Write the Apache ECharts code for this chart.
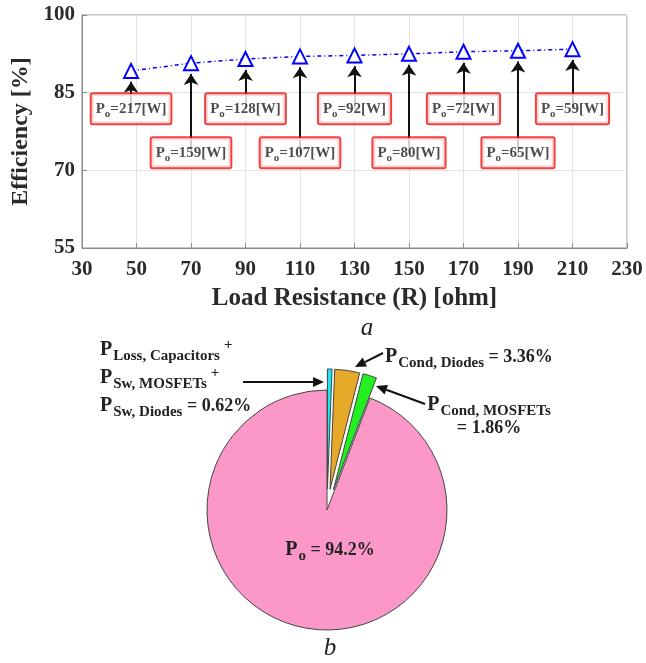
<!DOCTYPE html>
<html><head><meta charset="utf-8">
<script src="https://cdn.jsdelivr.net/npm/echarts@6/dist/echarts.min.js"></script>
<style>html,body{margin:0;padding:0;background:#fff}#c{width:646px;height:663px}</style>
</head><body><div id="c"></div>
<script>
// ---- data ----
const loadResistance = [48, 70, 90, 110, 130, 150, 170, 190, 210];
const efficiency = [89.2, 90.7, 91.5, 92.0, 92.2, 92.5, 92.9, 93.1, 93.4];
const outputPower = [217, 159, 128, 107, 92, 80, 72, 65, 59];
const xAxisRange = [30, 230, 20];
const yAxisRange = [55, 100, 15];
const pieParts = ['Loss+Sw', 'Cond, Diodes', 'Cond, MOSFETs', 'o'];
const pieShares = [0.62, 3.36, 1.86, 94.2];
const pieColors = ['#18e8f0', '#e6a92a', '#22f022', '#fb98c8'];

// ---- layout constants ----
const FONT = "'Liberation Serif','Times New Roman',serif";
const boxRowLevel = [81.9, 73.4];
const arrowGap = 2.1;

const boxData = loadResistance.map((x, i) => ({ value: [x, boxRowLevel[i % 2]], power: outputPower[i] }));
const arrowLines = loadResistance.map((x, i) => [
  { coord: [x, boxRowLevel[i % 2]], symbol: 'none' },
  { coord: [x, efficiency[i] - arrowGap], symbol: 'arrow' }
]);

function arrow(x1, y1, x2, y2) {
  const a = Math.atan2(y2 - y1, x2 - x1), L = 11, W = 5;
  const bx = x2 - L * Math.cos(a), by = y2 - L * Math.sin(a);
  return [
    { type: 'line', silent: true, shape: { x1, y1, x2: bx, y2: by }, style: { stroke: '#111', lineWidth: 2 } },
    { type: 'polygon', silent: true, shape: { points: [[x2, y2], [bx + W * Math.sin(a), by - W * Math.cos(a)], [bx - W * Math.sin(a), by + W * Math.cos(a)]] }, style: { fill: '#111' } }
  ];
}

const pieRich = {
  P: { fontFamily: FONT, fontWeight: 'bold', fontSize: 20, fill: '#222', color: '#222' },
  sub: { fontFamily: FONT, fontWeight: 'bold', fontSize: 15, fill: '#222', color: '#222', padding: [13, 0, 0, 1] },
  sup: { fontFamily: FONT, fontWeight: 'bold', fontSize: 15, fill: '#222', color: '#222', padding: [0, 0, 10, 4] },
  val: { fontFamily: FONT, fontWeight: 'bold', fontSize: 18, fill: '#222', color: '#222' }
};
const pct = (i, d) => pieShares[i].toFixed(d) + '%';
const pieNotes = [
  { text: '{P|P}{sub|Loss, Capacitors}{sup|+}\n{P|P}{sub|Sw, MOSFETs}{sup|+}\n{P|P}{sub|Sw, Diodes}{val| = ' + pct(0, 2) + '}', x: 100, y: 336, align: 'left', verticalAlign: 'top' },
  { text: '{P|P}{sub|' + pieParts[1] + '}{val| = ' + pct(1, 2) + '}', x: 385, y: 357, align: 'left', verticalAlign: 'middle' },
  { text: '{P|P}{sub|' + pieParts[2] + '}\n{val|= ' + pct(2, 2) + '}', x: 489, y: 391, align: 'center', verticalAlign: 'top' }
];

const chart = echarts.init(document.getElementById('c'), null, { renderer: 'canvas' });
chart.setOption({
  animation: false,
  backgroundColor: '#fff',
  grid: { left: 82, right: 19, top: 15, bottom: 415, show: true, borderColor: '#8a8a8a', borderWidth: 1, backgroundColor: 'transparent' },
  xAxis: {
    type: 'value', min: xAxisRange[0], max: xAxisRange[1], interval: xAxisRange[2],
    name: 'Load Resistance (R) [ohm]', nameLocation: 'middle', nameGap: 38,
    nameTextStyle: { fontFamily: FONT, fontWeight: 'bold', fontSize: 25, color: '#2a2a2a' },
    axisLine: { show: true, lineStyle: { color: '#8a8a8a' } },
    axisTick: { show: true, inside: true, length: 5, lineStyle: { color: '#8a8a8a' } },
    axisLabel: { fontFamily: FONT, fontWeight: 'bold', fontSize: 21, color: '#2a2a2a', margin: 11 },
    splitLine: { show: true, lineStyle: { color: '#e3e3e3', width: 1 } }
  },
  yAxis: {
    type: 'value', min: yAxisRange[0], max: yAxisRange[1], interval: yAxisRange[2],
    name: 'Efficiency [%]', nameLocation: 'middle', nameGap: 43,
    nameTextStyle: { fontFamily: FONT, fontWeight: 'bold', fontSize: 24, color: '#2a2a2a' },
    axisLine: { show: true, lineStyle: { color: '#8a8a8a' } },
    axisTick: { show: true, inside: true, length: 5, lineStyle: { color: '#8a8a8a' } },
    axisLabel: { fontFamily: FONT, fontWeight: 'bold', fontSize: 21, color: '#2a2a2a', margin: 7 },
    splitLine: { show: true, lineStyle: { color: '#e3e3e3', width: 1 } }
  },
  series: [
    {
      type: 'line', z: 3,
      data: loadResistance.map((x, i) => [x, efficiency[i]]),
      symbol: 'emptyTriangle', symbolSize: 14,
      itemStyle: { color: '#0000ff', borderWidth: 2.6 },
      lineStyle: { color: '#0000ff', width: 1.5, type: [4, 3, 1, 3] },
      markLine: {
        silent: true, symbolSize: 11, label: { show: false },
        lineStyle: { color: '#111', width: 2, type: 'solid' },
        emphasis: { disabled: true },
        data: arrowLines
      }
    },
    {
      type: 'scatter', z: 6, silent: true,
      data: boxData, symbolSize: 1, itemStyle: { color: 'rgba(0,0,0,0)' },
      label: {
        show: true, position: 'inside',
        formatter: p => '{p|P}{s|o}{p|=' + p.data.power + '[W]}',
        backgroundColor: '#fff', borderColor: '#ee1111', borderWidth: 2, borderRadius: 1,
        padding: [5, 4, 4, 4],
        rich: {
          p: { fontFamily: FONT, fontWeight: 'bold', fontSize: 15, color: '#222' },
          s: { fontFamily: FONT, fontWeight: 'bold', fontSize: 11, color: '#222', padding: [9, 0, 0, 0] }
        }
      }
    },
    {
      type: 'pie', center: [327, 510], radius: 120, startAngle: 90, clockwise: true,
      selectedMode: 'multiple', selectedOffset: 21, silent: true,
      emphasis: { disabled: true },
      itemStyle: { borderColor: '#444', borderWidth: 1 },
      select: { itemStyle: { borderColor: '#444', borderWidth: 1 } },
      labelLine: { show: false },
      data: pieShares.map((v, i) => ({
        value: v, name: pieParts[i], selected: i < 3,
        itemStyle: { color: pieColors[i] },
        label: i === 3
          ? { show: true, position: 'inside', formatter: '{P|P}{sub|o}{val| = ' + pct(3, 1) + '}', rich: pieRich }
          : { show: false }
      })),
      labelLayout: p => (p.dataIndex === 3 ? { x: 330, y: 550, align: 'center', verticalAlign: 'middle' } : {})
    }
  ],
  graphic: [
    ...arrow(243, 382, 324, 382),
    ...arrow(383, 353, 355, 367),
    ...arrow(425, 404, 376, 386),
    ...pieNotes.map(n => ({ type: 'text', silent: true, x: n.x, y: n.y, style: { text: n.text, rich: pieRich, align: n.align, verticalAlign: n.verticalAlign, fill: '#222' } })),
    { type: 'text', x: 367, y: 328, style: { text: 'a', font: "italic 25px 'Liberation Serif'", fill: '#222', align: 'center', verticalAlign: 'middle' } },
    { type: 'text', x: 330, y: 648, style: { text: 'b', font: "italic 25px 'Liberation Serif'", fill: '#222', align: 'center', verticalAlign: 'middle' } }
  ]
});
</script></body></html>
